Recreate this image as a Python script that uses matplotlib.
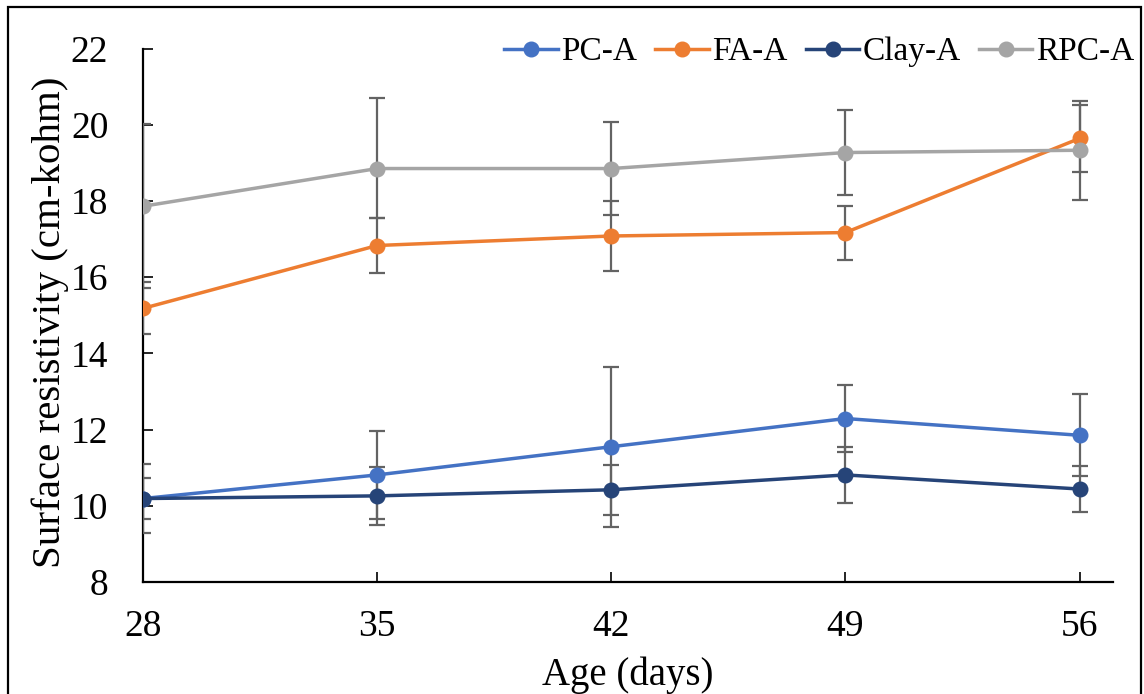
import matplotlib
matplotlib.use("Agg")
import matplotlib.pyplot as plt
from matplotlib.patches import Rectangle

# Curing age (days)
ages = [28, 35, 42, 49, 56]

# Mean surface resistivity (cm-kohm)
pc_a = [10.19, 10.81, 11.55, 12.29, 11.85]
fa_a = [15.18, 16.83, 17.08, 17.17, 19.64]
clay_a = [10.19, 10.26, 10.42, 10.81, 10.44]
rpc_a = [17.86, 18.85, 18.85, 19.27, 19.33]

# Error bar extents (lower, upper)
pc_err_lo = [0.90, 1.15, 2.10, 0.88, 1.08]
pc_err_hi = [0.90, 1.15, 2.10, 0.88, 1.08]
fa_err_lo = [0.68, 0.72, 0.92, 0.71, 0.87]
fa_err_hi = [0.68, 0.72, 0.92, 0.71, 0.87]
clay_err_lo = [0.53, 0.76, 0.66, 0.74, 0.60]
clay_err_hi = [0.53, 0.76, 0.66, 0.74, 0.60]
rpc_err_lo = [2.15, 1.29, 1.21, 1.12, 1.30]
rpc_err_hi = [2.15, 1.84, 1.21, 1.12, 1.30]

labels = ["PC-A", "FA-A", "Clay-A", "RPC-A"]
colors = ["#4472C4", "#ED7D31", "#264478", "#A5A5A5"]
x_ticks = [28, 35, 42, 49, 56]
y_ticks = [8, 10, 12, 14, 16, 18, 20, 22]

plt.rcParams["font.family"] = ["Liberation Serif", "DejaVu Serif"]

fig = plt.figure(figsize=(11.44, 6.94), dpi=100)
ax = fig.add_axes([143 / 1144, 1 - 582 / 694, 970 / 1144, 533.5 / 694])

series = [
    (pc_a, pc_err_lo, pc_err_hi),
    (fa_a, fa_err_lo, fa_err_hi),
    (clay_a, clay_err_lo, clay_err_hi),
    (rpc_a, rpc_err_lo, rpc_err_hi),
]

handles = []
for (vals, lo, hi), lab, col in zip(series, labels, colors):
    ax.errorbar(ages, vals, yerr=[lo, hi], fmt="none", ecolor="#636363",
                elinewidth=1.6, capsize=5.5, capthick=1.6, zorder=2)
for (vals, lo, hi), lab, col in zip(series, labels, colors):
    h, = ax.plot(ages, vals, color=col, lw=2.5, marker="o", markersize=10.5,
                 label=lab, zorder=3)
    handles.append(h)

ax.set_xlim(28, 57)
ax.set_ylim(8, 22)
ax.set_xticks(x_ticks)
ax.set_yticks(y_ticks)

for side in ("top", "right"):
    ax.spines[side].set_visible(False)
for side in ("left", "bottom"):
    ax.spines[side].set_color("black")
    ax.spines[side].set_linewidth(1.6)
    ax.spines[side].set_zorder(1)

ax.tick_params(axis="both", direction="in", length=7.5, width=1.2,
               labelsize=27, colors="black")
ax.tick_params(axis="y", pad=25)
ax.tick_params(axis="x", pad=20)

ax.set_xlabel("Age (days)", fontsize=28)
ax.set_ylabel("Surface resistivity (cm-kohm)", fontsize=29.5)
ax.xaxis.set_label_coords(0.5, -0.14)
ax.yaxis.set_label_coords(-0.076, 0.487)

fig.legend(handles=handles, labels=labels, loc="center right",
           bbox_to_anchor=(1134 / 1144, 1 - 52 / 694), ncol=4, frameon=False,
           fontsize=24, handlelength=1.6, handletextpad=0.1,
           columnspacing=0.55, borderpad=0, borderaxespad=0)

# Outer frame around the figure
fig.patches.append(Rectangle((8 / 1144, -0.02), 1133 / 1144, 1.02 - 7 / 694,
                             transform=fig.transFigure, fill=False,
                             edgecolor="black", linewidth=1.6))

fig.savefig("out.png", dpi=100)
